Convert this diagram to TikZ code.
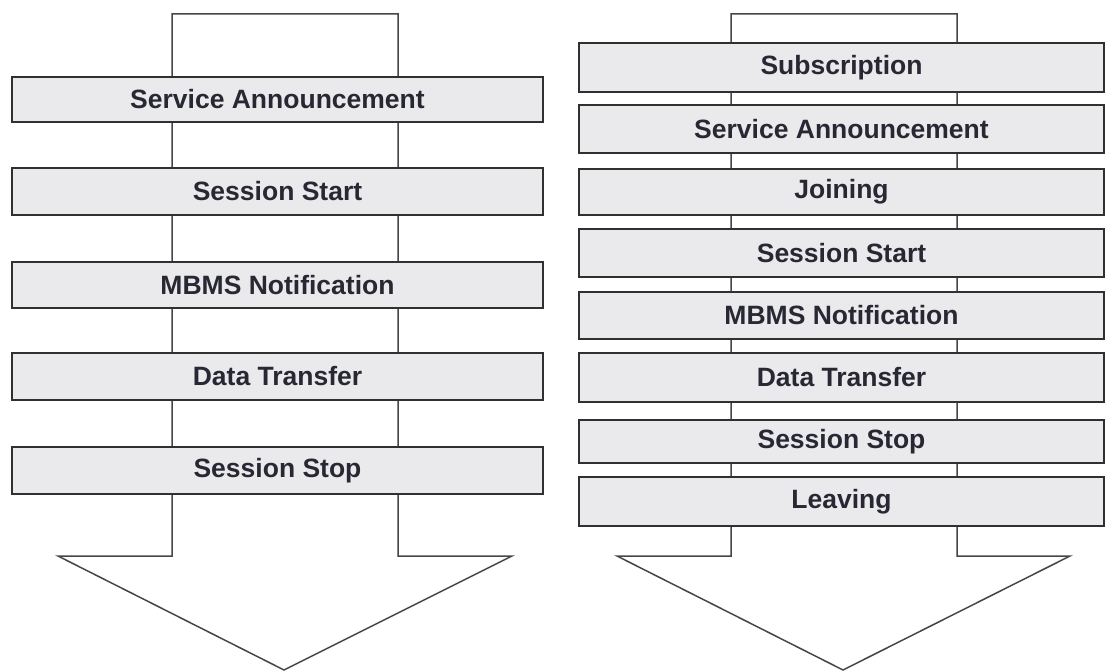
\documentclass[tikz,border=0pt]{standalone}
\usepackage{fontspec}
\setmainfont{Liberation Sans}
\definecolor{boxfill}{RGB}{234,234,236}
\definecolor{boxline}{RGB}{48,48,48}
\definecolor{shaftline}{RGB}{70,70,70}
\definecolor{txt}{RGB}{40,40,52}
\tikzset{
  phase/.style={draw=boxline, fill=boxfill, line width=1.6pt, rectangle, inner sep=0pt,
    text=txt, font=\bfseries\fontsize{26.5}{30}\selectfont},
  bigarrow/.style={draw=shaftline, fill=white, line width=1.5pt, line join=miter}
}
\newcommand{\phasebox}[6]{% name, left, right, top, bottom, text
  \node[phase, minimum width={#3-#2}, minimum height={#5-#4}] (#1) at ({(#2+#3)/2},{(#4+#5)/2}) {#6};
}
\begin{document}
\begin{tikzpicture}[x=1pt,y=-1pt]
\useasboundingbox (0,0) rectangle (1106,671);
% left arrow
\draw[bigarrow] (172,14) coordinate (LA1) -- (398,14) -- (398,556) -- (512,556) -- (284,670) coordinate (LTip) -- (58,556) -- (172,556) -- cycle;
% right arrow
\draw[bigarrow] (731,14) coordinate (RA1) -- (957,14) -- (957,556) -- (1070,556) -- (843,670) coordinate (RTip) -- (617,556) -- (731,556) -- cycle;
% left boxes
\phasebox{L1}{12}{543}{77}{122}{Service Announcement}
\phasebox{L2}{12}{543}{168}{215}{Session Start}
\phasebox{L3}{12}{543}{262}{308}{MBMS Notification}
\phasebox{L4}{12}{543}{353}{400}{Data Transfer}
\phasebox{L5}{12}{543}{447}{494}{Session Stop}
% right boxes
\phasebox{R1}{579}{1104}{43}{92}{Subscription}
\phasebox{R2}{579}{1104}{105}{153}{Service Announcement}
\phasebox{R3}{579}{1104}{169}{215}{Joining}
\phasebox{R4}{579}{1104}{229}{277}{Session Start}
\phasebox{R5}{579}{1104}{292}{339}{MBMS Notification}
\phasebox{R6}{579}{1104}{353}{402}{Data Transfer}
\phasebox{R7}{579}{1104}{420}{463}{Session Stop}
\phasebox{R8}{579}{1104}{477}{526}{Leaving}
\end{tikzpicture}
\end{document}
